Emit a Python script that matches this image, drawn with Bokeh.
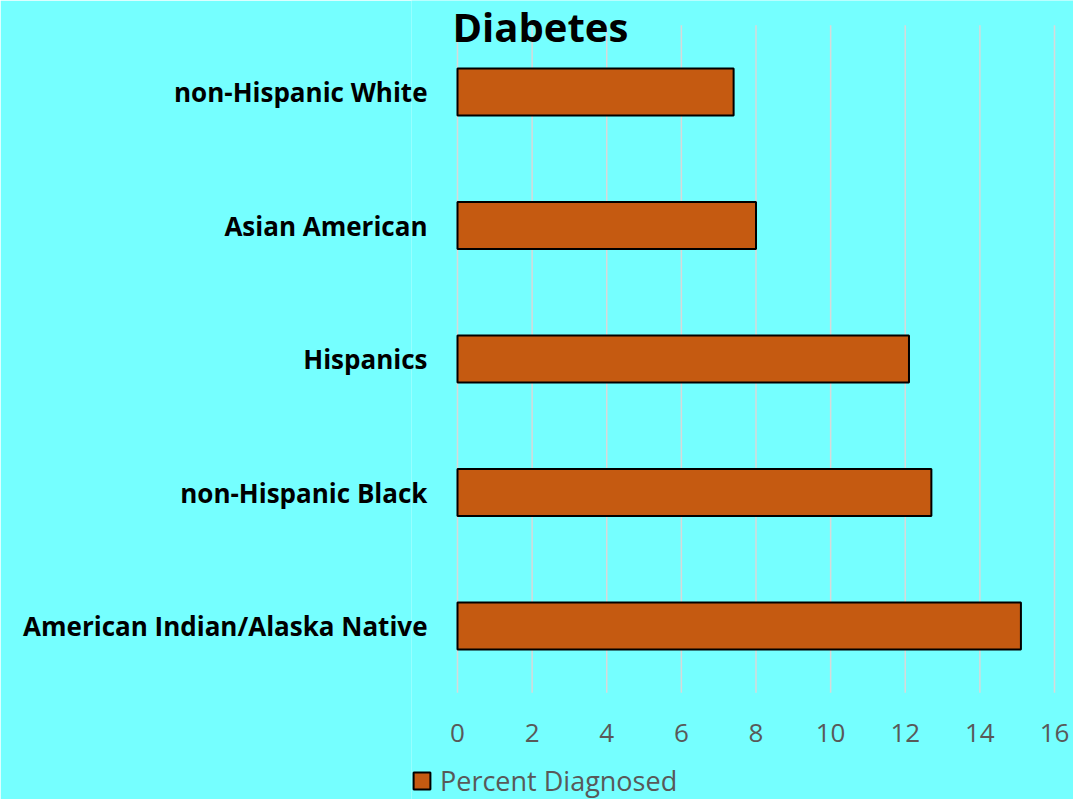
from bokeh.plotting import figure
from bokeh.models import ColumnDataSource, Range1d, Legend, LegendItem, FixedTicker, Label
from bokeh.embed import file_html
from bokeh.resources import INLINE

groups = ["American Indian/Alaska Native", "non-Hispanic Black", "Hispanics",
          "Asian American", "non-Hispanic White"]
percent_diagnosed = [15.1, 12.7, 12.1, 8.0, 7.4]
x_ticks = [0, 2, 4, 6, 8, 10, 12, 14, 16]
title_text = "Diabetes"
series_name = "Percent Diagnosed"

BG = "#75FFFF"
BAR = "#C55A11"
FONT = "Open Sans"

W, H = 1073, 799
# horizontal layout: value 0 at x=457px, value 16 at x=1054px, frame spans 411px..right edge
FRAME_LEFT = 411
ZERO_PX = 457
SIXTEEN_PX = 1054
x_ppu = (SIXTEEN_PX - ZERO_PX) / 16.0
x_start = -(ZERO_PX - FRAME_LEFT) / x_ppu
x_end = 16 + (W - SIXTEEN_PX) / x_ppu
# vertical layout: category band 0..5 spans y=692px (bottom) .. 25px (top)
BAND_BOTTOM_PX = 692.25
BAND_TOP_PX = 24.75
y_ppu = (BAND_BOTTOM_PX - BAND_TOP_PX) / len(groups)
y_start = -(H - BAND_BOTTOM_PX) / y_ppu
y_end = len(groups) + BAND_TOP_PX / y_ppu

positions = [i + 0.5 for i in range(len(groups))]
src = ColumnDataSource(dict(pos=positions, group=groups, value=percent_diagnosed))

p = figure(width=W, height=H, output_backend="svg", toolbar_location=None,
           x_range=Range1d(x_start, x_end), y_range=Range1d(y_start, y_end),
           min_border_left=FRAME_LEFT, min_border_right=0,
           min_border_top=0, min_border_bottom=0)
p.background_fill_color = BG
p.border_fill_color = BG
p.outline_line_color = None
p.xgrid.grid_line_color = None
p.ygrid.grid_line_color = None

# vertical grid lines over the category band
p.segment(x0=x_ticks, x1=x_ticks, y0=[0] * len(x_ticks), y1=[len(groups)] * len(x_ticks),
          line_color="#D9D9D9", line_width=1.5)

r = p.hbar(y="pos", right="value", left=0, height=0.352, source=src,
           fill_color=BAR, line_color="black", line_width=2)

p.xaxis.ticker = FixedTicker(ticks=x_ticks)
p.xaxis.fixed_location = 0
p.xaxis.axis_line_color = None
p.xaxis.major_tick_line_color = None
p.xaxis.minor_tick_line_color = None
p.xaxis.major_tick_out = 0
p.xaxis.major_tick_in = 0
p.xaxis.major_label_text_font = FONT
p.xaxis.major_label_text_font_size = "26px"
p.xaxis.major_label_text_color = "#595959"
p.xaxis.major_label_standoff = 31

p.yaxis.ticker = FixedTicker(ticks=positions)
p.yaxis.major_label_overrides = {pos: g for pos, g in zip(positions, groups)}
p.yaxis.axis_line_color = None
p.yaxis.major_tick_line_color = None
p.yaxis.minor_tick_line_color = None
p.yaxis.major_tick_out = 0
p.yaxis.major_tick_in = 0
p.yaxis.major_label_text_font = FONT
p.yaxis.major_label_text_font_style = "bold"
p.yaxis.major_label_text_font_size = "26px"
p.yaxis.major_label_text_color = "black"
p.yaxis.major_label_standoff = -(427 - FRAME_LEFT)

p.add_layout(Label(x=(452 - ZERO_PX) / x_ppu, y=(BAND_BOTTOM_PX - 26) / y_ppu,
                   text=title_text, text_align="left", text_baseline="alphabetic",
                   text_font=FONT, text_font_style="bold", text_font_size="40px",
                   text_color="black"))

legend = Legend(items=[LegendItem(label=series_name, renderers=[r])],
                location=(0, 0), orientation="horizontal",
                background_fill_alpha=0, border_line_color=None,
                padding=0, margin=0, glyph_width=21, glyph_height=21,
                label_standoff=8, label_text_font=FONT,
                label_text_font_size="27px", label_text_color="#595959")
p.add_layout(legend, "center")

open("out.html", "w").write(file_html(p, INLINE))
